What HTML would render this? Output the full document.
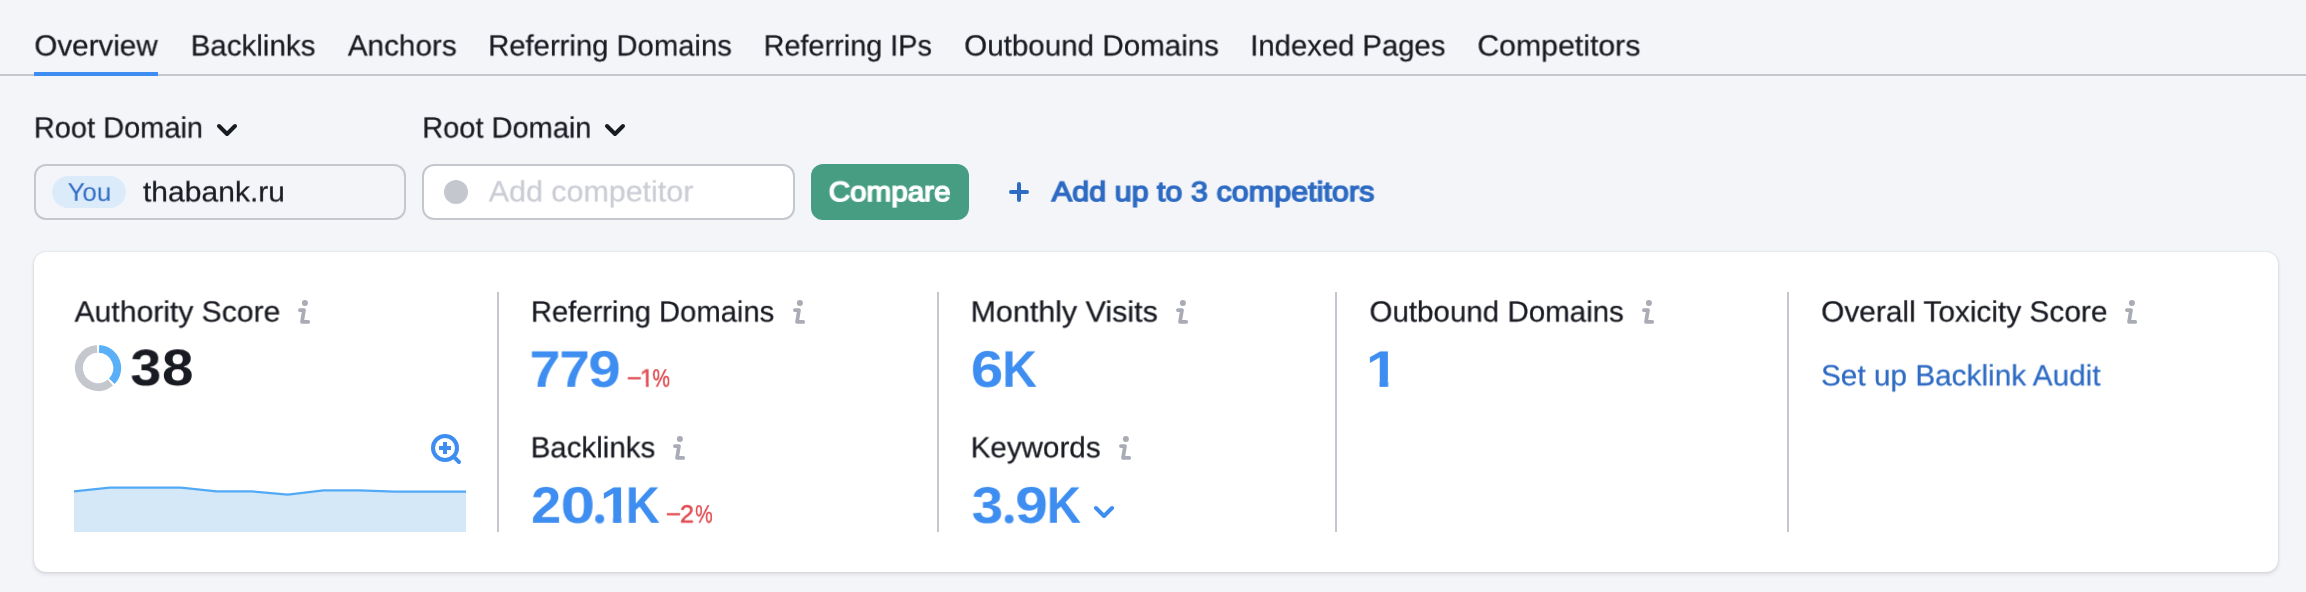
<!DOCTYPE html>
<html><head><meta charset="utf-8"><title>Backlink Analytics</title>
<style>
html,body{margin:0;padding:0}
body{width:2306px;height:592px;overflow:hidden;position:relative;background:#f4f5f9;font-family:"Liberation Sans",sans-serif}
.a{position:absolute;display:block}
.t{position:absolute;left:0;top:0;display:block;white-space:nowrap;line-height:60px;transform-origin:0 0;will-change:transform;text-rendering:geometricPrecision}
.div{position:absolute;top:292px;width:2px;height:240px;background:#c5c7ce}
</style></head><body>
<!-- tabs -->
<div class="a" style="left:0;top:74px;width:2306px;height:2px;background:#c5c7ce"></div>
<div class="a" style="left:34px;top:72px;width:124px;height:4px;background:#3e8df0"></div>
<!-- inputs -->
<div class="a" style="left:34px;top:164px;width:368px;height:52px;border:2px solid #c5c7ce;border-radius:12px;background:#f4f5f9"></div>
<div class="a" style="left:52px;top:176px;width:74px;height:32px;border-radius:16px;background:#dcebfa"></div>
<div class="a" style="left:422px;top:164px;width:369px;height:52px;border:2px solid #c5c7ce;border-radius:12px;background:#fff"></div>
<div class="a" style="left:444px;top:180px;width:24px;height:24px;border-radius:12px;background:#c5c7ce"></div>
<div class="a" style="left:811px;top:164px;width:158px;height:56px;border-radius:12px;background:#469d82"></div>
<svg class="a" style="left:1005px;top:178px" width="28" height="28" viewBox="1005 178 28 28"><path d="M1011 192H1027M1019 184V200" stroke="#2e6bc3" stroke-width="4" stroke-linecap="round" fill="none"/></svg>
<svg class="a" style="left:213px;top:118px" width="28" height="24" viewBox="213 118 28 24"><path d="M219 126L227 134L235 126" fill="none" stroke="#191b22" stroke-width="4" stroke-linecap="round" stroke-linejoin="round"/></svg>
<svg class="a" style="left:601px;top:118px" width="28" height="24" viewBox="601 118 28 24"><path d="M607 126L615 134L623 126" fill="none" stroke="#191b22" stroke-width="4" stroke-linecap="round" stroke-linejoin="round"/></svg>
<!-- card -->
<div class="a" style="left:34px;top:252px;width:2244px;height:320px;border-radius:12px;background:#fff;box-shadow:0 0 2px rgba(25,27,35,.16),0 2px 4px rgba(25,27,35,.12)"></div>
<div class="div" style="left:497px"></div>
<div class="div" style="left:937px"></div>
<div class="div" style="left:1335px"></div>
<div class="div" style="left:1787px"></div>
<!-- donut -->
<svg class="a" style="left:72px;top:342px" width="52" height="52" viewBox="72 342 52 52">
<path d="M110.41 382.58A19.15 19.15 0 1 1 97.05 348.83" fill="none" stroke="#c5c7ce" stroke-width="7.9"/>
<path d="M99.05 348.83A19.15 19.15 0 0 1 111.87 381.20" fill="none" stroke="#59b0f9" stroke-width="7.9"/>
</svg>
<!-- sparkline -->
<svg class="a" style="left:70px;top:480px" width="400" height="56" viewBox="70 480 400 56">
<polygon points="74.0,491.4 109.6,487.6 145.3,487.6 180.9,487.6 216.5,491.4 252.2,491.4 287.8,494.6 323.5,490.3 359.1,490.3 394.7,491.6 430.4,491.6 466.0,491.6 466,532 74,532" fill="#d5e8f7"/>
<polyline points="74.0,491.4 109.6,487.6 145.3,487.6 180.9,487.6 216.5,491.4 252.2,491.4 287.8,494.6 323.5,490.3 359.1,490.3 394.7,491.6 430.4,491.6 466.0,491.6" fill="none" stroke="#52aaf7" stroke-width="2.2" stroke-linejoin="round"/>
</svg>
<!-- zoom icon -->
<svg class="a" style="left:428px;top:430px" width="38" height="38" viewBox="428 430 38 38">
<circle cx="445" cy="448" r="12" fill="none" stroke="#3e8df0" stroke-width="4"/>
<path d="M439 448H451M445 442V454" stroke="#3e8df0" stroke-width="4" fill="none"/>
<path d="M453.6 456.6L459 462" stroke="#3e8df0" stroke-width="4" stroke-linecap="round" fill="none"/>
</svg>
<svg class="a" style="left:1090px;top:500px" width="28" height="24" viewBox="1090 500 28 24"><path d="M1096 508L1104 516L1112 508" fill="none" stroke="#3e8df0" stroke-width="4" stroke-linecap="round" stroke-linejoin="round"/></svg>
<svg class="a" style="left:296.2px;top:297.9px" width="18" height="30" viewBox="-2 -2 18 30"><circle cx="6.9" cy="3" r="3" fill="#a9abb5"/><path d="M1.9 10.1H6L4 21.9H10.2" fill="none" stroke="#a9abb5" stroke-width="3.7" stroke-linecap="round" stroke-linejoin="round"/></svg>
<svg class="a" style="left:790.7px;top:297.9px" width="18" height="30" viewBox="-2 -2 18 30"><circle cx="6.9" cy="3" r="3" fill="#a9abb5"/><path d="M1.9 10.1H6L4 21.9H10.2" fill="none" stroke="#a9abb5" stroke-width="3.7" stroke-linecap="round" stroke-linejoin="round"/></svg>
<svg class="a" style="left:1174.0px;top:297.9px" width="18" height="30" viewBox="-2 -2 18 30"><circle cx="6.9" cy="3" r="3" fill="#a9abb5"/><path d="M1.9 10.1H6L4 21.9H10.2" fill="none" stroke="#a9abb5" stroke-width="3.7" stroke-linecap="round" stroke-linejoin="round"/></svg>
<svg class="a" style="left:1639.8px;top:297.9px" width="18" height="30" viewBox="-2 -2 18 30"><circle cx="6.9" cy="3" r="3" fill="#a9abb5"/><path d="M1.9 10.1H6L4 21.9H10.2" fill="none" stroke="#a9abb5" stroke-width="3.7" stroke-linecap="round" stroke-linejoin="round"/></svg>
<svg class="a" style="left:2123.2px;top:297.9px" width="18" height="30" viewBox="-2 -2 18 30"><circle cx="6.9" cy="3" r="3" fill="#a9abb5"/><path d="M1.9 10.1H6L4 21.9H10.2" fill="none" stroke="#a9abb5" stroke-width="3.7" stroke-linecap="round" stroke-linejoin="round"/></svg>
<svg class="a" style="left:670.9px;top:434.0px" width="18" height="30" viewBox="-2 -2 18 30"><circle cx="6.9" cy="3" r="3" fill="#a9abb5"/><path d="M1.9 10.1H6L4 21.9H10.2" fill="none" stroke="#a9abb5" stroke-width="3.7" stroke-linecap="round" stroke-linejoin="round"/></svg>
<svg class="a" style="left:1117.3px;top:434.0px" width="18" height="30" viewBox="-2 -2 18 30"><circle cx="6.9" cy="3" r="3" fill="#a9abb5"/><path d="M1.9 10.1H6L4 21.9H10.2" fill="none" stroke="#a9abb5" stroke-width="3.7" stroke-linecap="round" stroke-linejoin="round"/></svg>
<!-- text -->
<nav class="tabs">
<span class="t" style="font-size:29.80px;font-weight:400;color:#191b22;-webkit-text-stroke:0.25px #191b22;transform:translate(34.38px,17.20px) scale(0.9922,0.9822) skewX(.03deg)">Overview</span>
<span class="t" style="font-size:29.80px;font-weight:400;color:#191b22;-webkit-text-stroke:0.25px #191b22;transform:translate(190.68px,17.20px) scale(0.9911,0.9822) skewX(.03deg)">Backlinks</span>
<span class="t" style="font-size:29.80px;font-weight:400;color:#191b22;-webkit-text-stroke:0.25px #191b22;transform:translate(347.77px,17.20px) scale(0.9960,0.9822) skewX(.03deg)">Anchors</span>
<span class="t" style="font-size:29.80px;font-weight:400;color:#191b22;-webkit-text-stroke:0.25px #191b22;transform:translate(488.21px,17.20px) scale(0.9807,0.9822) skewX(.03deg)">Referring Domains</span>
<span class="t" style="font-size:29.80px;font-weight:400;color:#191b22;-webkit-text-stroke:0.25px #191b22;transform:translate(763.64px,17.20px) scale(0.9678,0.9822) skewX(.03deg)">Referring IPs</span>
<span class="t" style="font-size:29.80px;font-weight:400;color:#191b22;-webkit-text-stroke:0.25px #191b22;transform:translate(964.18px,17.20px) scale(0.9925,0.9822) skewX(.03deg)">Outbound Domains</span>
<span class="t" style="font-size:29.80px;font-weight:400;color:#191b22;-webkit-text-stroke:0.25px #191b22;transform:translate(1250.28px,17.20px) scale(0.9812,0.9822) skewX(.03deg)">Indexed Pages</span>
<span class="t" style="font-size:29.80px;font-weight:400;color:#191b22;-webkit-text-stroke:0.25px #191b22;transform:translate(1477.34px,17.20px) scale(1.0151,0.9822) skewX(.03deg)">Competitors</span>
</nav>
<div class="filters">
<span class="t" style="font-size:29.80px;font-weight:400;color:#191b22;-webkit-text-stroke:0.25px #191b22;transform:translate(33.83px,99.25px) scale(0.9731,0.9822) skewX(.03deg)">Root Domain</span>
<span class="t" style="font-size:29.80px;font-weight:400;color:#191b22;-webkit-text-stroke:0.25px #191b22;transform:translate(422.23px,99.25px) scale(0.9731,0.9822) skewX(.03deg)">Root Domain</span>
<span class="t" style="font-size:25.68px;font-weight:400;color:#2e6bc3;transform:translate(67.63px,163.09px) scale(1.0057,0.9925) skewX(.03deg)">You</span>
<span class="t" style="font-size:29.80px;font-weight:400;color:#191b22;-webkit-text-stroke:0.25px #191b22;transform:translate(142.95px,164.40px) scale(1.0081,0.9479) skewX(.03deg)">thabank.ru</span>
<span class="t" style="font-size:29.80px;font-weight:400;color:#cbcdd5;-webkit-text-stroke:0.25px #cbcdd5;transform:translate(488.77px,163.05px) scale(1.0204,0.9822) skewX(.03deg)">Add competitor</span>
<span class="t" style="font-size:29.80px;font-weight:400;color:#ffffff;-webkit-text-stroke:1.5px #ffffff;transform:translate(828.72px,164.75px) scale(0.9942,0.9325) skewX(.03deg)">Compare</span>
<span class="t" style="font-size:29.80px;font-weight:400;color:#2e6bc3;-webkit-text-stroke:1.5px #2e6bc3;transform:translate(1051.68px,164.65px) scale(1.0255,0.9325) skewX(.03deg)">Add up to 3 competitors</span>
</div>
<section class="metrics">
<span class="t" style="font-size:29.80px;font-weight:400;color:#191b22;-webkit-text-stroke:0.25px #191b22;transform:translate(74.57px,283.25px) scale(1.0097,0.9822) skewX(.03deg)">Authority Score</span>
<span class="t" style="font-size:29.80px;font-weight:400;color:#191b22;-webkit-text-stroke:0.25px #191b22;transform:translate(530.91px,283.25px) scale(0.9795,0.9822) skewX(.03deg)">Referring Domains</span>
<span class="t" style="font-size:29.80px;font-weight:400;color:#191b22;-webkit-text-stroke:0.25px #191b22;transform:translate(970.61px,283.25px) scale(1.0214,0.9822) skewX(.03deg)">Monthly Visits</span>
<span class="t" style="font-size:29.80px;font-weight:400;color:#191b22;-webkit-text-stroke:0.25px #191b22;transform:translate(1369.48px,283.25px) scale(0.9909,0.9822) skewX(.03deg)">Outbound Domains</span>
<span class="t" style="font-size:29.80px;font-weight:400;color:#191b22;-webkit-text-stroke:0.25px #191b22;transform:translate(1821.17px,283.25px) scale(1.0013,0.9822) skewX(.03deg)">Overall Toxicity Score</span>
<span class="t" style="font-size:29.80px;font-weight:400;color:#191b22;-webkit-text-stroke:0.25px #191b22;transform:translate(530.69px,419.05px) scale(0.9895,0.9822) skewX(.03deg)">Backlinks</span>
<span class="t" style="font-size:29.80px;font-weight:400;color:#191b22;-webkit-text-stroke:0.25px #191b22;transform:translate(970.68px,419.05px) scale(0.9930,0.9822) skewX(.03deg)">Keywords</span>
<span class="t" style="font-size:51.46px;font-weight:700;color:#3e8df0;clip-path:polygon(0 0,40px 0,40px 41.45px,19.32px 41.45px,19.32px 60px,11.76px 60px,11.76px 41.45px,0 41.45px);transform:translate(1365.92px,338.92px) scale(1.1500,0.9975) skewX(.03deg)">1</span>
<span class="t" style="font-size:29.80px;font-weight:400;color:#2e6bc3;-webkit-text-stroke:0.25px #2e6bc3;transform:translate(1821.01px,347.05px) scale(0.9984,0.9822) skewX(.03deg)">Set up Backlink Audit</span>
<div class="num"><span class="t" style="font-size:51.46px;font-weight:700;color:#191b22;transform:translate(130.39px,337.32px) scale(1.0790,0.9975) skewX(.03deg)">3</span><span class="t" style="font-size:51.46px;font-weight:700;color:#191b22;transform:translate(161.93px,337.32px) scale(1.1025,0.9975) skewX(.03deg)">8</span></div>
<div class="num"><span class="t" style="font-size:51.46px;font-weight:700;color:#3e8df0;transform:translate(529.60px,338.92px) scale(1.0773,0.9975) skewX(.03deg)">7</span><span class="t" style="font-size:51.46px;font-weight:700;color:#3e8df0;transform:translate(559.44px,338.92px) scale(1.0608,0.9975) skewX(.03deg)">7</span><span class="t" style="font-size:51.46px;font-weight:700;color:#3e8df0;transform:translate(588.34px,338.92px) scale(1.1309,0.9975) skewX(.03deg)">9</span></div>
<div class="num"><span class="t" style="font-size:51.46px;font-weight:700;color:#3e8df0;transform:translate(970.84px,338.92px) scale(1.1294,0.9975) skewX(.03deg)">6</span><span class="t" style="font-size:51.46px;font-weight:700;color:#3e8df0;transform:translate(1002.41px,338.92px) scale(0.9264,0.9975) skewX(.03deg)">K</span></div>
<div class="num"><span class="t" style="font-size:51.46px;font-weight:700;color:#3e8df0;transform:translate(531.13px,474.92px) scale(1.0495,0.9975) skewX(.03deg)">2</span><span class="t" style="font-size:51.46px;font-weight:700;color:#3e8df0;transform:translate(560.62px,474.92px) scale(1.2043,0.9975) skewX(.03deg)">0</span><span class="t" style="font-size:51.46px;font-weight:700;color:#3e8df0;clip-path:circle(3.45px at 7.12px 44.17px);transform:translate(590.04px,459.34px) scale(1.3495,1.3495) skewX(.03deg)">.</span><span class="t" style="font-size:51.46px;font-weight:700;color:#3e8df0;clip-path:polygon(0 0,40px 0,40px 41.45px,19.32px 41.45px,19.32px 60px,11.76px 60px,11.76px 41.45px,0 41.45px);transform:translate(599.96px,474.92px) scale(1.1059,0.9975) skewX(.03deg)">1</span><span class="t" style="font-size:51.46px;font-weight:700;color:#3e8df0;transform:translate(625.81px,474.92px) scale(0.9111,0.9975) skewX(.03deg)">K</span></div>
<div class="num"><span class="t" style="font-size:51.46px;font-weight:700;color:#3e8df0;transform:translate(971.67px,474.92px) scale(1.0987,0.9975) skewX(.03deg)">3</span><span class="t" style="font-size:51.46px;font-weight:700;color:#3e8df0;clip-path:circle(3.44px at 7.12px 44.17px);transform:translate(999.73px,460.66px) scale(1.3220,1.3220) skewX(.03deg)">.</span><span class="t" style="font-size:51.46px;font-weight:700;color:#3e8df0;transform:translate(1015.23px,474.92px) scale(1.1390,0.9975) skewX(.03deg)">9</span><span class="t" style="font-size:51.46px;font-weight:700;color:#3e8df0;transform:translate(1046.84px,474.92px) scale(0.9172,0.9975) skewX(.03deg)">K</span></div>
<div class="num"><span class="t" style="font-size:25.68px;font-weight:400;color:#e04c52;-webkit-text-stroke:0.45px #e04c52;transform:translate(626.73px,349.68px) scale(1.0096,0.9704) skewX(.03deg)">−</span><span class="t" style="font-size:25.68px;font-weight:400;color:#e04c52;clip-path:polygon(-2px 0,40px 0,40px 34.33px,8.98px 34.33px,8.98px 60px,6.21px 60px,6.21px 34.33px,-2px 34.33px);-webkit-text-stroke:0.45px #e04c52;transform:translate(639.65px,349.68px) scale(1.0000,0.9704) skewX(.03deg)">1</span><span class="t" style="font-size:25.68px;font-weight:400;color:#e04c52;-webkit-text-stroke:0.45px #e04c52;transform:translate(652.47px,349.68px) scale(0.7664,0.9704) skewX(.03deg)">%</span></div>
<div class="num"><span class="t" style="font-size:25.68px;font-weight:400;color:#e04c52;-webkit-text-stroke:0.45px #e04c52;transform:translate(665.82px,485.68px) scale(1.0175,0.9704) skewX(.03deg)">−</span><span class="t" style="font-size:25.68px;font-weight:400;color:#e04c52;-webkit-text-stroke:0.45px #e04c52;transform:translate(679.87px,485.68px) scale(0.9907,0.9704) skewX(.03deg)">2</span><span class="t" style="font-size:25.68px;font-weight:400;color:#e04c52;-webkit-text-stroke:0.45px #e04c52;transform:translate(695.16px,485.68px) scale(0.7687,0.9704) skewX(.03deg)">%</span></div>
</section>
</body></html>
